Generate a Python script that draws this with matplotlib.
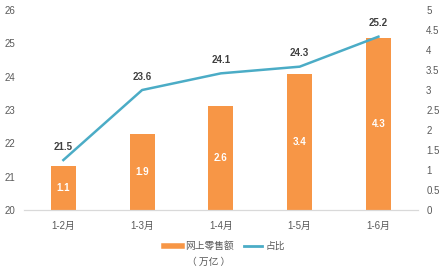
import matplotlib
matplotlib.use("Agg")
import matplotlib.pyplot as plt
from matplotlib.lines import Line2D

plt.rcParams['font.family'] = ['Liberation Sans', 'Noto Sans CJK SC', 'DejaVu Sans']

categories = ["1-2月", "1-3月", "1-4月", "1-5月", "1-6月"]
bar_values = [1.1, 1.9, 2.6, 3.4, 4.3]        # 网上零售额（万亿）, right axis
line_values = [21.5, 23.6, 24.1, 24.3, 25.2]  # 占比, left axis
left_ticks = [20, 21, 22, 23, 24, 25, 26]
right_ticks = [0, 0.5, 1, 1.5, 2, 2.5, 3, 3.5, 4, 4.5, 5]

orange = "#F79646"
blue = "#4BACC6"
tick_color = "#595959"

fig = plt.figure(figsize=(4.44, 2.70), dpi=100)
ax = fig.add_axes([0.054, 0.222, 0.887, 0.741])
x = list(range(len(categories)))

# bars on primary axis (right scale)
ax.bar(x, bar_values, width=0.32, color=orange, zorder=2)
ax.set_ylim(0, 5)
ax.set_xlim(-0.5, len(categories) - 0.5)
ax.set_xticks(x)
ax.set_xticklabels(categories)
for xi, v in zip(x, bar_values):
    ax.text(xi, v / 2, f"{v:.1f}", ha="center", va="center", color="white",
            fontsize=7, fontweight="bold")

# line on twin axis (left scale)
ax2 = ax.twinx()
ax2.plot(x, line_values, color=blue, linewidth=1.8, zorder=3)
ax2.set_ylim(20, 26)
ax2.set_yticks(left_ticks)
ax2.set_yticklabels([str(t) for t in left_ticks])
ax2.yaxis.tick_left()
for xi, v in zip(x, line_values):
    ax2.annotate(f"{v:.1f}", (xi, v), xytext=(0, 9.5), textcoords="offset points",
                 ha="center", va="center", color="#404040", fontsize=7,
                 fontweight="bold")

ax.yaxis.tick_right()
ax.set_yticks(right_ticks)
ax.set_yticklabels([f"{t:g}" for t in right_ticks])

for a in (ax, ax2):
    for s in ("top", "left", "right"):
        a.spines[s].set_visible(False)
    a.spines["bottom"].set_color("#D9D9D9")
    a.tick_params(axis="both", length=0, labelsize=7, colors=tick_color)
ax.tick_params(axis="x", pad=8)
ax.tick_params(axis="y", pad=6)
ax2.tick_params(axis="y", pad=6)

handles = [Line2D([0], [0], color=orange, linewidth=4),
           Line2D([0], [0], color=blue, linewidth=2)]
leg = fig.legend(handles, ["网上零售额", "占比"], loc="center",
                 bbox_to_anchor=(0.505, 0.089), ncol=2, frameon=False,
                 fontsize=7, handlelength=1.9, handletextpad=0.3,
                 columnspacing=1.0)
for t in leg.get_texts():
    t.set_color(tick_color)
fig.text(0.422, 0.03, "（ 万亿 ）", fontsize=7, color=tick_color, ha="left",
         va="center", family=["Noto Sans CJK SC"])

fig.savefig("out.png", dpi=100)
